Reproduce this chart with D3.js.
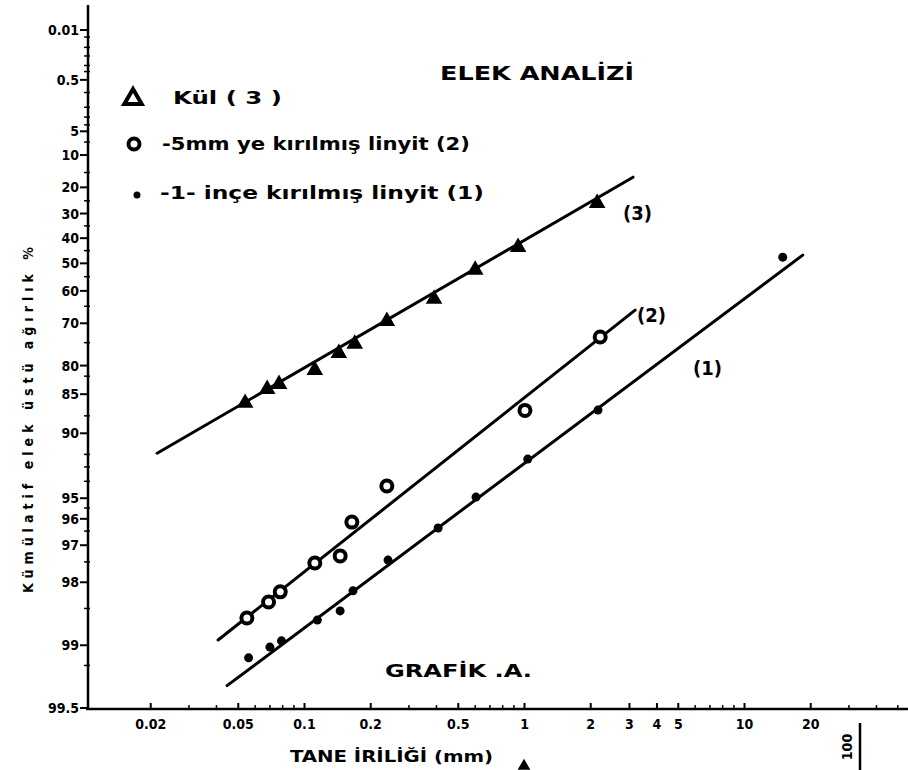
<!DOCTYPE html>
<html>
<head>
<meta charset="utf-8">
<script src="https://cdn.jsdelivr.net/npm/d3@7"></script>
<style>
  body { margin: 0; background: #fff; }
  text { font-family: "DejaVu Sans Condensed", "Liberation Sans Narrow", "DejaVu Sans", sans-serif; font-weight: bold; fill: #000; }
</style>
</head>
<body>
<svg id="chart" width="908" height="770"></svg>
<script>
// Sieve analysis: grain size (mm) against cumulative oversize (%)
// (3) ash
const kulSize = [0.054, 0.068, 0.077, 0.112, 0.144, 0.17, 0.238, 0.39, 0.6, 0.94, 2.15];
const kulOver = [86.3, 84.2, 83.4, 80.9, 77.4, 75.3, 69.4, 62.7, 52.5, 43.6, 25.9];
// (2) lignite crushed to -5 mm
const kirik5Size = [0.055, 0.069, 0.078, 0.112, 0.146, 0.165, 0.238, 1.01, 2.22];
const kirik5Over = [98.65, 98.39, 98.2, 97.53, 97.33, 96.14, 94.3, 87.3, 73.6];
// (1) lignite crushed to -1 inch
const ince1Size = [0.056, 0.070, 0.079, 0.115, 0.146, 0.167, 0.241, 0.407, 0.605, 1.04, 2.17, 15.0];
const ince1Over = [99.13, 99.02, 98.95, 98.68, 98.54, 98.18, 97.45, 96.38, 94.94, 92.39, 87.26, 47.6];

// fitted straight lines (end points)
const fitKulSize = [0.0215, 3.13];
const fitKulOver = [91.9, 16.5];
const fitKirik5Size = [0.0407, 3.2];
const fitKirik5Over = [98.94, 66.2];
const fitInce1Size = [0.0447, 18.5];
const fitInce1Over = [99.36, 46.8];

// axis ticks
const xTickValues = [0.02, 0.05, 0.1, 0.2, 0.5, 1, 2, 3, 4, 5, 10, 20];
const xTickLabels = ["0.02", "0.05", "0.1", "0.2", "0.5", "1", "2", "3", "4", "5", "10", "20"];
const xMinorTicks = [0.03, 0.04, 0.06, 0.07, 0.08, 0.09, 0.3, 0.4, 0.6, 0.7, 0.8, 0.9, 6, 7, 8, 9, 30, 40, 50];
const yTickValues = [0.01, 0.5, 5, 10, 20, 30, 40, 50, 60, 70, 80, 85, 90, 95, 96, 97, 98, 99, 99.5];
const yTickLabels = ["0.01", "0.5", "5", "10", "20", "30", "40", "50", "60", "70", "80", "85", "90", "95", "96", "97", "98", "99", "99.5"];
const yMinorTicks = [0.02, 0.05, 0.1, 0.2, 0.3, 1, 2, 3, 4, 7, 15, 25, 35, 45, 55, 65, 75, 82, 88, 92, 93, 94, 95.5, 96.5, 97.5, 98.5, 99.2];

const svg = d3.select("#chart");

// x: logarithmic grain size
const x = d3.scaleLog().domain([0.01, 100]).range([84, 964]);
// y: Rosin-Rammler scale, linear in log(log(100/R))
const rr = R => Math.log10(Math.log10(100 / R));
const yT = d3.scaleLinear().domain([rr(99.5), rr(0.01)]).range([708, 30]);
const y = R => yT(rr(R));

const axisX0 = 88, axisX1 = 908, axisY = 709, axisTop = 5;

// frame lines
svg.append("line").attr("x1", axisX0).attr("x2", axisX0).attr("y1", axisTop).attr("y2", axisY)
  .attr("stroke", "#000").attr("stroke-width", 2.5);
svg.append("line").attr("x1", axisX0 - 2).attr("x2", axisX1).attr("y1", axisY).attr("y2", axisY)
  .attr("stroke", "#000").attr("stroke-width", 2.5);

// y ticks
const gy = svg.append("g");
gy.selectAll("line.maj").data(yTickValues).join("line")
  .attr("x1", axisX0 - 8).attr("x2", axisX0).attr("y1", d => y(d)).attr("y2", d => y(d))
  .attr("stroke", "#000").attr("stroke-width", 2);
gy.selectAll("line.min").data(yMinorTicks).join("line")
  .attr("x1", axisX0 - 4).attr("x2", axisX0 + 2).attr("y1", d => y(d)).attr("y2", d => y(d))
  .attr("stroke", "#000").attr("stroke-width", 1.5);
gy.selectAll("text").data(yTickValues).join("text")
  .attr("x", axisX0 - 9).attr("y", d => y(d)).attr("dy", "0.36em")
  .attr("text-anchor", "end").attr("font-size", 14)
  .text((d, i) => yTickLabels[i]);

// x ticks
const xAxis = d3.axisBottom(x).tickValues(xTickValues).tickSize(-6).tickPadding(10)
  .tickFormat((d, i) => xTickLabels[i]);
const gx = svg.append("g").attr("transform", `translate(0,${axisY})`).call(xAxis);
gx.select(".domain").remove();
gx.selectAll(".tick line").attr("stroke", "#000").attr("stroke-width", 2);
gx.selectAll(".tick text").attr("font-size", 14)
  .attr("font-family", "'DejaVu Sans Condensed','Liberation Sans Narrow','DejaVu Sans',sans-serif")
  .attr("font-weight", "bold");
svg.append("g").selectAll("line").data(xMinorTicks).join("line")
  .attr("x1", d => x(d)).attr("x2", d => x(d)).attr("y1", axisY - 4).attr("y2", axisY)
  .attr("stroke", "#000").attr("stroke-width", 1.5);

// fitted lines
const fitLine = (sz, ov) => d3.line().x(d => x(d[0])).y(d => y(d[1]))(d3.zip(sz, ov));
[[fitKulSize, fitKulOver], [fitKirik5Size, fitKirik5Over], [fitInce1Size, fitInce1Over]].forEach(([s, o]) => {
  svg.append("path").attr("d", fitLine(s, o)).attr("fill", "none")
    .attr("stroke", "#000").attr("stroke-width", 3).attr("stroke-linecap", "round");
});

// (3) triangles
const tri = d3.symbol(d3.symbolTriangle).size(120);
svg.append("g").selectAll("path").data(d3.zip(kulSize, kulOver)).join("path")
  .attr("transform", d => `translate(${x(d[0])},${y(d[1])})`)
  .attr("d", tri).attr("fill", "#000");

// (2) circles
svg.append("g").selectAll("circle").data(d3.zip(kirik5Size, kirik5Over)).join("circle")
  .attr("cx", d => x(d[0])).attr("cy", d => y(d[1])).attr("r", 5.5)
  .attr("fill", "#fff").attr("stroke", "#000").attr("stroke-width", 4);

// (1) dots
svg.append("g").selectAll("circle").data(d3.zip(ince1Size, ince1Over)).join("circle")
  .attr("cx", d => x(d[0])).attr("cy", d => y(d[1])).attr("r", 4.5).attr("fill", "#000");

// title and legend
svg.append("text").attr("x", 440).attr("y", 80).attr("font-size", 20)
  .attr("textLength", 194).attr("lengthAdjust", "spacingAndGlyphs").text("ELEK ANALİZİ");

const leg = svg.append("g");
leg.append("path").attr("transform", "translate(133,99)")
  .attr("d", d3.symbol(d3.symbolTriangle).size(130)).attr("fill", "none")
  .attr("stroke", "#000").attr("stroke-width", 4);
leg.append("text").attr("x", 173).attr("y", 104).attr("font-size", 17)
  .attr("textLength", 109).attr("lengthAdjust", "spacingAndGlyphs").text("Kül  ( 3 )");
leg.append("circle").attr("cx", 134).attr("cy", 144).attr("r", 5.5)
  .attr("fill", "#fff").attr("stroke", "#000").attr("stroke-width", 4);
leg.append("text").attr("x", 162).attr("y", 150).attr("font-size", 17)
  .attr("textLength", 308).attr("lengthAdjust", "spacingAndGlyphs").text("-5mm ye kırılmış linyit  (2)");
leg.append("circle").attr("cx", 137).attr("cy", 195).attr("r", 3.5).attr("fill", "#000");
leg.append("text").attr("x", 160).attr("y", 199).attr("font-size", 17)
  .attr("textLength", 324).attr("lengthAdjust", "spacingAndGlyphs").text("-1- inçe kırılmış linyit  (1)");

// series labels at line ends
svg.append("text").attr("x", 623).attr("y", 220).attr("font-size", 20).text("(3)");
svg.append("text").attr("x", 637).attr("y", 322).attr("font-size", 20).text("(2)");
svg.append("text").attr("x", 693).attr("y", 375).attr("font-size", 20).text("(1)");

svg.append("text").attr("x", 385).attr("y", 677).attr("font-size", 18)
  .attr("textLength", 147).attr("lengthAdjust", "spacingAndGlyphs").text("GRAFİK .A.");

// axis titles
svg.append("text").attr("transform", "translate(33,420) rotate(-90)")
  .attr("text-anchor", "middle").attr("font-size", 14)
  .attr("textLength", 346).attr("lengthAdjust", "spacing").text("Kümülatif elek üstü ağırlık %");
svg.append("text").attr("x", 290).attr("y", 762).attr("font-size", 16)
  .attr("textLength", 203).attr("lengthAdjust", "spacingAndGlyphs").text("TANE İRİLİĞİ (mm)");

// small marker under the 1 mm tick and side note
svg.append("path").attr("transform", `translate(${x(1)},766)`)
  .attr("d", d3.symbol(d3.symbolTriangle).size(70)).attr("fill", "#000");
svg.append("line").attr("x1", 860).attr("x2", 860).attr("y1", 723).attr("y2", 770)
  .attr("stroke", "#000").attr("stroke-width", 2.5);
svg.append("text").attr("transform", "translate(852,747) rotate(-90)")
  .attr("text-anchor", "middle").attr("font-size", 14).text("100");
</script>
</body>
</html>
